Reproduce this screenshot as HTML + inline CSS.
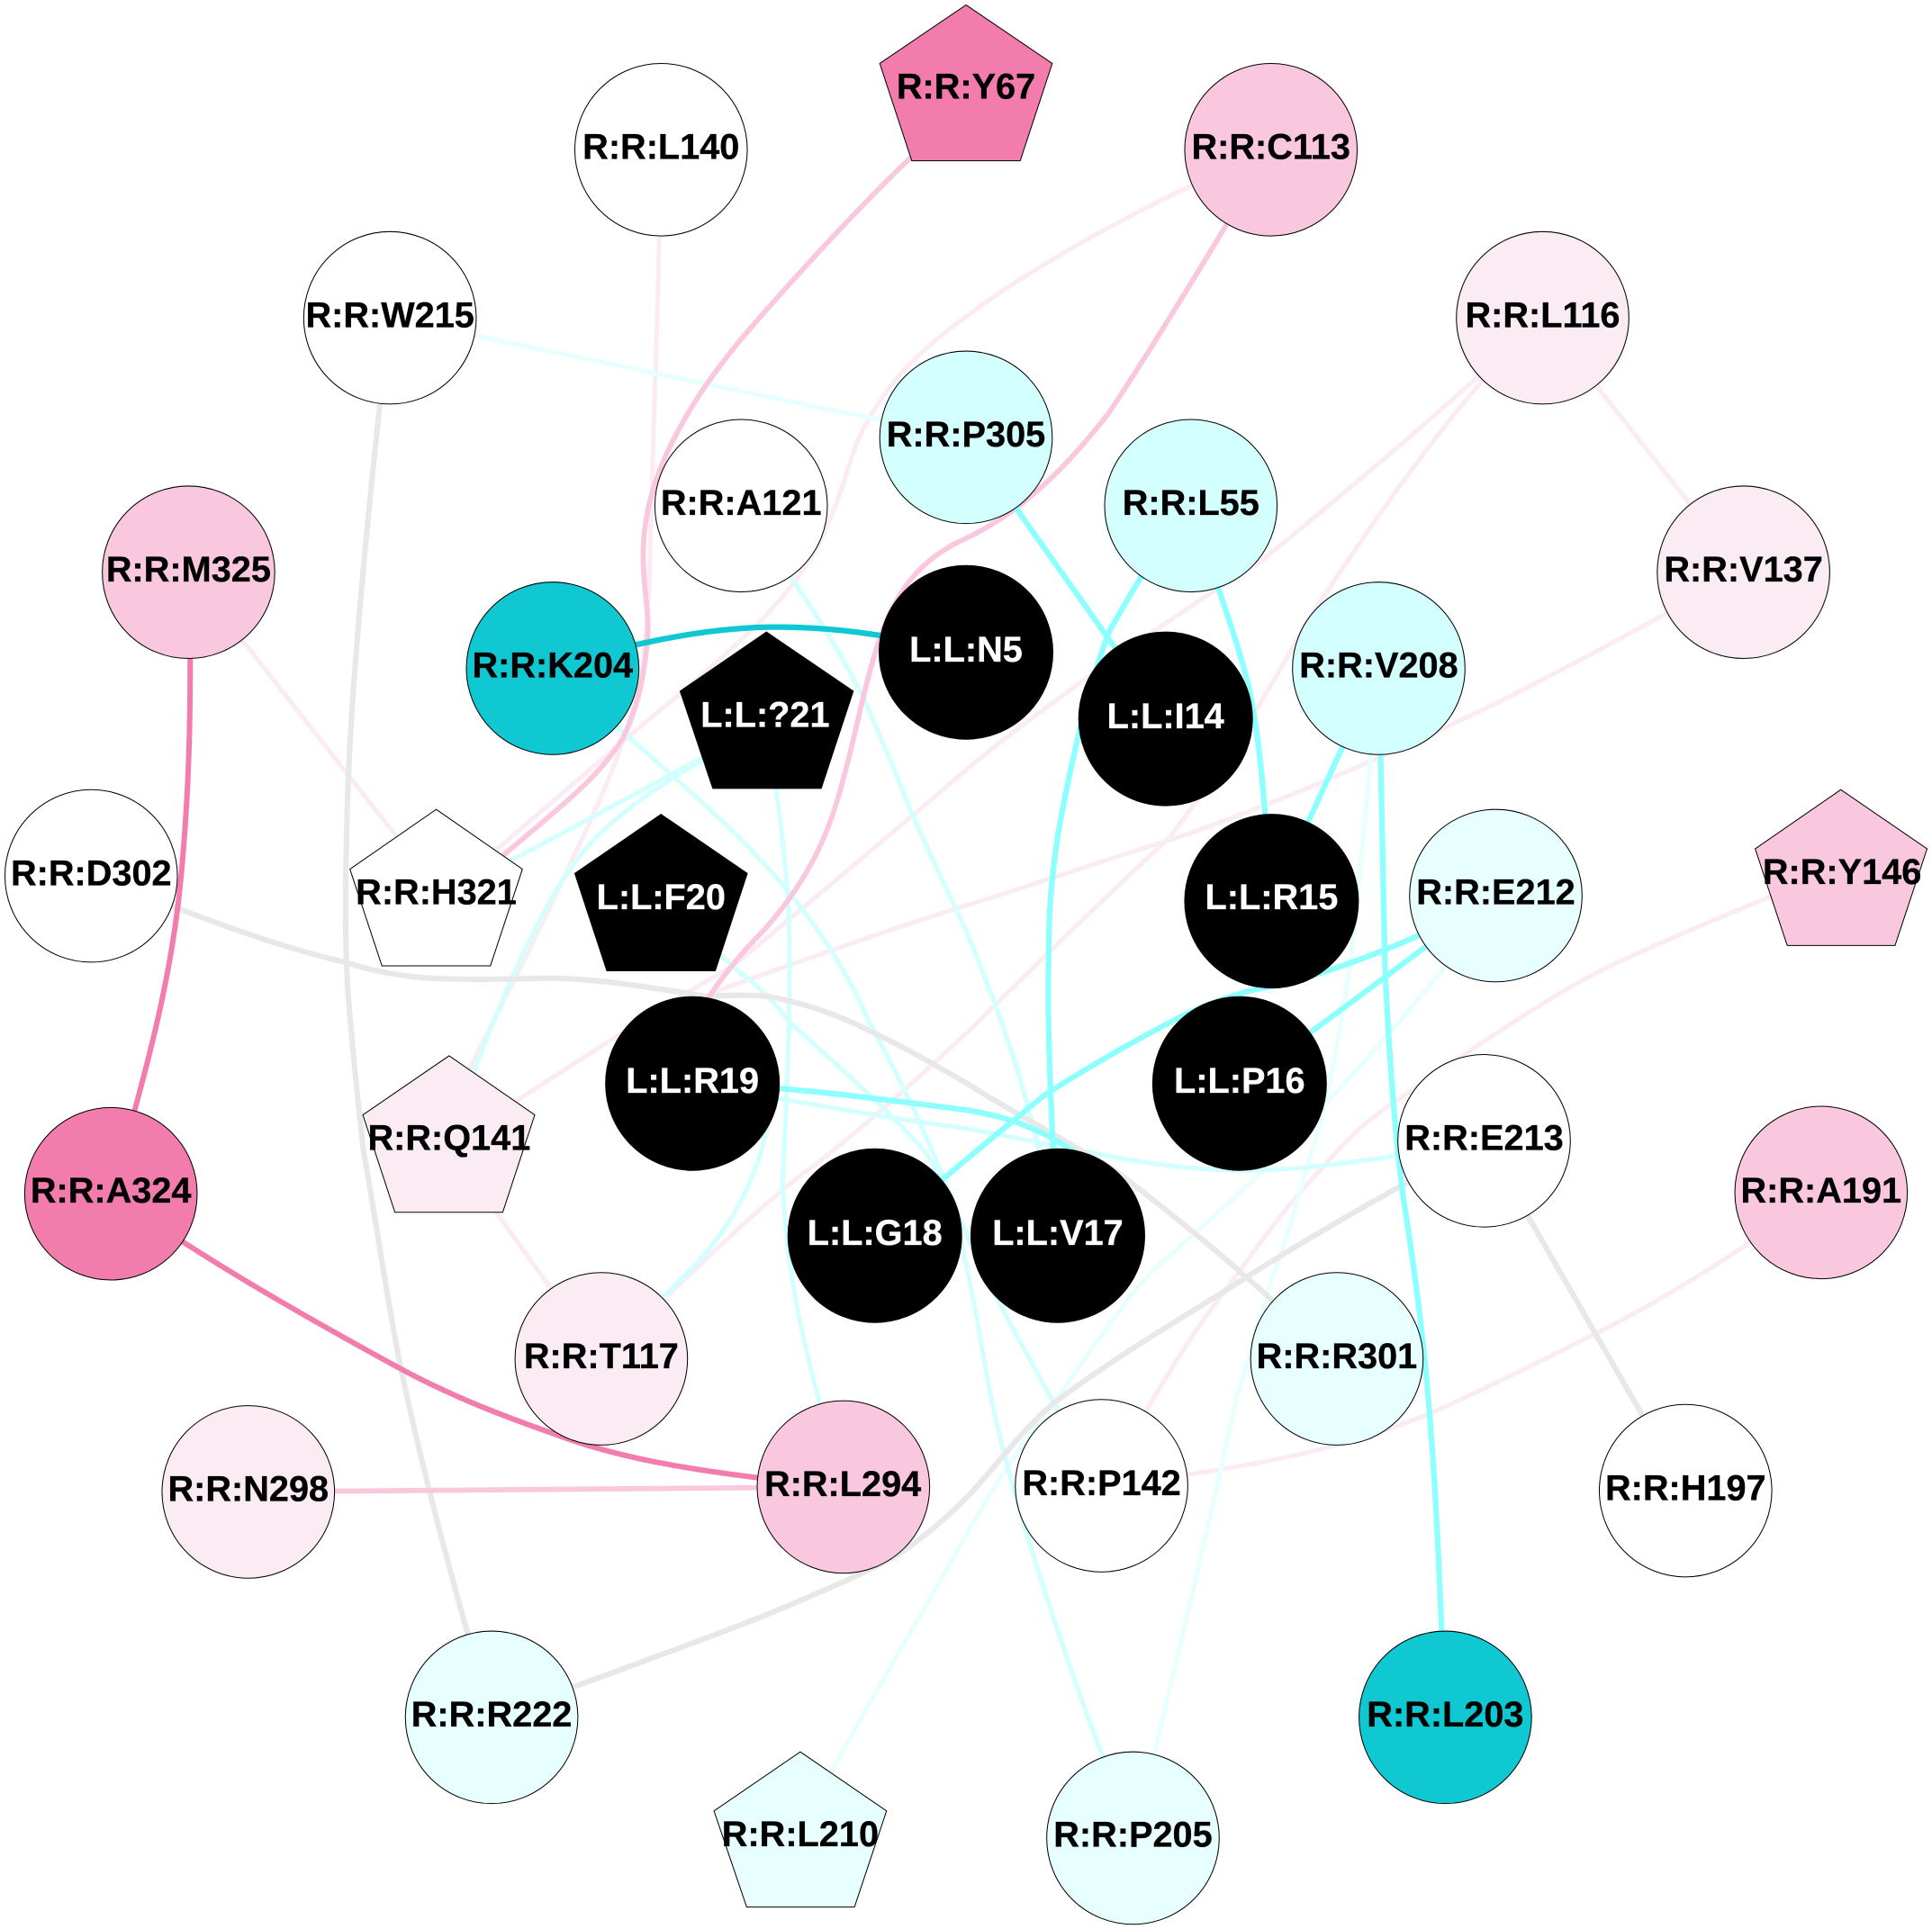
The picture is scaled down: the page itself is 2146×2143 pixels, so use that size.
<!DOCTYPE html>
<html>
<head>
<meta charset="utf-8">
<style>
html,body{margin:0;padding:0;background:#fff;}
svg{display:block;}
text{font-family:"Liberation Sans",Arial,sans-serif;font-weight:bold;font-size:29px;text-anchor:middle;fill:#000;stroke:#000;stroke-width:0.25;}
text.w{fill:#fff;stroke:#fff;}
path{fill:none;stroke-linecap:butt;}
circle,polygon{stroke:#000;stroke-width:0.75;}
.s{stroke:#f27dad;stroke-width:4.4;}
.p{stroke:#f9c8de;stroke-width:4.2;}
.l{stroke:#fbecf4;stroke-width:3.8;}
.k{stroke:#0fc8d2;stroke-width:4.6;}
.c{stroke:#8effff;stroke-width:4.6;}
.d{stroke:#d3ffff;stroke-width:3.8;}
.e{stroke:#e8ffff;stroke-width:3.8;}
.g{stroke:#e8e8e8;stroke-width:4.5;}
</style>
</head>
<body>
<svg xmlns="http://www.w3.org/2000/svg" width="2146" height="2143" viewBox="0 0 1568 1565.8">
<rect x="0" y="0" width="1568" height="1566" fill="#fff"/>
<!-- lightest pink -->
<path class="l" d="M536,150 C534,260 530,350 527,470 C525,540 515,580 495,630 C470,690 420,790 380,870"/>
<path class="l" d="M1032,121 C930,165 840,215 784,257 C745,285 715,315 695,360 C685,390 680,410 665,440 C640,490 590,530 550,565 C500,605 450,650 385,705"/>
<path class="l" d="M153,464 L354,720"/>
<path class="l" d="M1252,258 C1180,325 1110,385 1024,455 C960,495 850,570 784,625 C720,680 660,730 595,784 C540,815 470,860 364,930"/>
<path class="l" d="M1252,258 C1180,325 1110,430 1064,500 C1040,540 1010,600 949,680 C900,725 840,784 784,839 C740,880 690,925 650,954 C610,985 570,1025 488,1103"/>
<path class="l" d="M1252,258 L1415,464"/>
<path class="l" d="M1415,464 C1330,510 1250,555 1174,590 C1120,615 1030,655 949,682 C890,700 840,718 784,735 C720,755 650,780 580,805"/>
<path class="l" d="M364,930 L488,1103"/>
<path class="l" d="M1494,705 C1430,730 1370,755 1309,783 C1260,806 1190,855 1134,893 C1100,915 1085,935 1064,958 C1035,990 1015,1020 994,1048 C965,1085 945,1120 894,1206"/>
<path class="l" d="M1478,968 C1420,1010 1360,1050 1294,1083 C1250,1105 1200,1130 1159,1148 C1090,1175 1030,1190 894,1206"/>
<!-- pale cyan -->
<path class="e" d="M316,258 C420,280 620,322 784,355"/>
<path class="e" d="M1119,542 C1112,620 1105,700 1096,783 C1088,830 1082,870 1074,903 C1060,950 1048,995 1034,1033 C1022,1070 1015,1100 1004,1133 C985,1220 960,1330 920,1491"/>
<path class="e" d="M1214,727 C1180,780 1120,850 1064,908 C1020,960 975,995 934,1033 C905,1065 880,1105 854,1140 C830,1170 805,1210 784,1246 C755,1300 710,1370 650,1485"/>
<path class="d" d="M449,542 C510,600 560,640 600,680 C640,720 680,770 705,829 C725,865 745,905 765,954 C790,1020 815,1070 894,1206"/>
<path class="d" d="M602,410 C640,465 675,515 700,565 C720,610 730,635 740,660 C755,695 770,725 784,755 C810,820 835,880 858,1003"/>
<path class="d" d="M622,587 C632,650 638,700 640,740 C642,790 640,870 635,959 C638,1030 650,1090 684,1207"/>
<path class="d" d="M622,587 C550,625 480,665 354,730"/>
<path class="d" d="M622,587 C580,612 535,635 500,665 C470,690 460,710 450,725 C430,760 400,820 364,930"/>
<path class="d" d="M537,730 C560,755 580,770 600,789 C615,800 630,815 640,829 C680,865 720,900 750,934 C780,975 790,1060 804,1133 C820,1210 860,1340 920,1491"/>
<path class="d" d="M622,890 C630,910 610,965 590,994 C570,1025 550,1040 488,1103"/>
<path class="d" d="M562,880 C600,885 700,905 784,916 C820,922 850,930 884,935 C930,945 970,950 1009,950 C1050,950 1100,945 1205,926"/>
<!-- grey -->
<path class="g" d="M316,258 C300,400 285,550 282,650 C280,720 280,760 282,800 C285,840 290,890 295,934 C305,990 315,1060 325,1109 C340,1180 360,1260 399,1394"/>
<path class="g" d="M1205,926 C1140,960 1060,1005 994,1048 C950,1075 900,1105 854,1140 C825,1165 805,1195 784,1216 C765,1235 745,1252 725,1264 C700,1278 675,1288 650,1299 C590,1325 530,1345 399,1394"/>
<path class="g" d="M1205,926 L1368,1210"/>
<path class="g" d="M74,711 C140,735 210,765 280,781 C305,789 330,793 350,794 C390,796 420,794 450,794 C490,795 530,802 575,809 C590,808 605,807 625,809 C655,815 680,824 700,834 C730,848 755,862 784,879 C825,905 865,925 909,953 C950,985 990,1015 1085,1103"/>
<!-- pink -->
<path class="p" d="M740,127 C700,165 640,230 600,277 C575,308 560,330 545,360 C530,390 522,420 522,450 C522,480 528,500 525,525 C522,550 518,575 505,600 C480,640 440,665 385,715"/>
<path class="p" d="M1032,121 C1000,175 940,275 900,335 C865,380 830,415 784,437 C750,452 730,475 715,515 C700,560 695,595 685,630 C675,670 660,710 620,755 C600,775 580,800 562,830"/>
<path class="p" d="M201,1211 L684,1207"/>
<!-- strong pink -->
<path class="s" d="M154,464 C155,560 155,640 145,730 C138,790 125,850 90,969"/>
<path class="s" d="M90,969 C170,1025 250,1070 325,1111 C370,1135 410,1150 450,1164 C500,1183 560,1195 684,1207"/>
<!-- cyan -->
<path class="k" d="M449,542 C500,525 570,509 630,509 C670,509 710,513 784,529"/>
<path class="c" d="M784,355 L946,584"/>
<path class="c" d="M967,410 C935,450 910,495 899,515 C880,570 868,625 859,675 C852,720 851,750 851,784 C850,830 852,880 858,1003"/>
<path class="c" d="M967,410 C985,470 1005,520 1014,560 C1022,600 1025,630 1032,732"/>
<path class="c" d="M1119,542 L1032,732"/>
<path class="c" d="M1119,542 C1120,620 1122,700 1124,784 C1127,850 1132,920 1139,973 C1148,1030 1155,1085 1159,1133 C1165,1200 1168,1270 1173,1394"/>
<path class="c" d="M1214,727 C1160,760 1070,795 1019,803 C1000,808 980,815 959,825 C920,845 885,865 849,888 C815,915 780,945 710,1003"/>
<path class="c" d="M1214,727 C1160,765 1110,805 1006,880"/>
<path class="c" d="M562,880 C620,880 700,890 784,901 C815,906 850,916 885,945"/>
<!-- nodes -->
<polygon fill="#f27dad" points="784,4 854,51.5 828,130.5 740,130.5 714,51.5"/>
<circle cx="536.5" cy="121.5" r="70" fill="#fff"/>
<circle cx="1031.5" cy="121.5" r="70" fill="#f9c8de"/>
<circle cx="316.5" cy="258" r="70" fill="#fff"/>
<circle cx="1252" cy="258" r="70" fill="#fbecf4"/>
<circle cx="784" cy="355" r="70" fill="#d3ffff"/>
<circle cx="601.5" cy="410.5" r="70" fill="#fff"/>
<circle cx="966.5" cy="410.5" r="70" fill="#d3ffff"/>
<circle cx="153" cy="464.5" r="70" fill="#f9c8de"/>
<circle cx="1415" cy="464.5" r="70" fill="#fbecf4"/>
<circle cx="448.5" cy="542.5" r="70" fill="#0fc8d2"/>
<circle cx="1119" cy="542.5" r="70" fill="#d3ffff"/>
<circle cx="784" cy="529.5" r="70.5" fill="#000"/>
<circle cx="946" cy="583.5" r="70.5" fill="#000"/>
<polygon fill="#000" points="622,513 692.5,561 666.5,640 578.5,640 552,561"/>
<polygon fill="#fff" points="354,657 424,705.5 398,784 310,784 284,705.5"/>
<polygon fill="#000" points="536.5,661 606.5,709 580.5,788 492.5,788 466.5,709"/>
<circle cx="74" cy="711" r="70" fill="#fff"/>
<circle cx="1032" cy="731.5" r="70.5" fill="#000"/>
<circle cx="1214" cy="727" r="70" fill="#e8ffff"/>
<polygon fill="#f9c8de" points="1494,641 1564,689 1538,767.5 1450.5,767.5 1424.5,689"/>
<circle cx="562" cy="879.5" r="70.5" fill="#000"/>
<circle cx="1006" cy="879.5" r="70.5" fill="#000"/>
<circle cx="1204.5" cy="926" r="70" fill="#fff"/>
<polygon fill="#fbecf4" points="364.5,857 434,905 408,984 320.5,984 294.5,905"/>
<circle cx="90" cy="969" r="70" fill="#f27dad"/>
<circle cx="1478" cy="968" r="70" fill="#f9c8de"/>
<circle cx="710" cy="1003" r="70.5" fill="#000"/>
<circle cx="858.5" cy="1003" r="70.5" fill="#000"/>
<circle cx="488" cy="1103" r="70" fill="#fbecf4"/>
<circle cx="1085" cy="1103" r="70" fill="#e8ffff"/>
<circle cx="684.5" cy="1207" r="70" fill="#f9c8de"/>
<circle cx="894" cy="1206" r="70" fill="#fff"/>
<circle cx="201.5" cy="1211" r="70" fill="#fbecf4"/>
<circle cx="1368" cy="1210" r="70" fill="#fff"/>
<circle cx="399" cy="1394" r="70" fill="#e8ffff"/>
<circle cx="1173" cy="1394" r="70" fill="#0fc8d2"/>
<polygon fill="#e8ffff" points="649.5,1422 719.5,1470 693.5,1548 606,1548 579.5,1470"/>
<circle cx="919.5" cy="1492" r="70" fill="#e8ffff"/>
<!-- labels -->
<g transform="translate(0,-1)">
<text x="784" y="81">R:R:Y67</text>
<text x="536.5" y="130">R:R:L140</text>
<text x="1031.5" y="130">R:R:C113</text>
<text x="316.5" y="266.5">R:R:W215</text>
<text x="1252" y="266.5">R:R:L116</text>
<text x="784" y="363.5">R:R:P305</text>
<text x="601.5" y="419">R:R:A121</text>
<text x="966.5" y="419">R:R:L55</text>
<text x="153" y="473">R:R:M325</text>
<text x="1415" y="473">R:R:V137</text>
<text x="448.5" y="551">R:R:K204</text>
<text x="1119" y="551">R:R:V208</text>
<text class="w" x="784" y="538">L:L:N5</text>
<text class="w" x="946" y="592">L:L:I14</text>
<text class="w" x="621" y="591">L:L:?21</text>
<text x="354" y="735">R:R:H321</text>
<text class="w" x="536.5" y="739">L:L:F20</text>
<text x="74" y="719.5">R:R:D302</text>
<text class="w" x="1032" y="739">L:L:R15</text>
<text x="1214" y="735">R:R:E212</text>
<text x="1495" y="718.5">R:R:Y146</text>
<text class="w" x="562" y="888">L:L:R19</text>
<text class="w" x="1006" y="888">L:L:P16</text>
<text x="1204.5" y="934.5">R:R:E213</text>
<text x="364.5" y="934.5">R:R:Q141</text>
<text x="90" y="977">R:R:A324</text>
<text x="1478" y="977">R:R:A191</text>
<text class="w" x="710" y="1011.5">L:L:G18</text>
<text class="w" x="858.5" y="1011.5">L:L:V17</text>
<text x="488" y="1111.5">R:R:T117</text>
<text x="1085" y="1111.5">R:R:R301</text>
<text x="684" y="1215.5">R:R:L294</text>
<text x="894" y="1214.5">R:R:P142</text>
<text x="201.5" y="1219.5">R:R:N298</text>
<text x="1368" y="1218.5">R:R:H197</text>
<text x="399" y="1402.5">R:R:R222</text>
<text x="1173" y="1402.5">R:R:L203</text>
<text x="649.5" y="1499.5">R:R:L210</text>
<text x="919.5" y="1500">R:R:P205</text>
</g>
</svg>
</body>
</html>
